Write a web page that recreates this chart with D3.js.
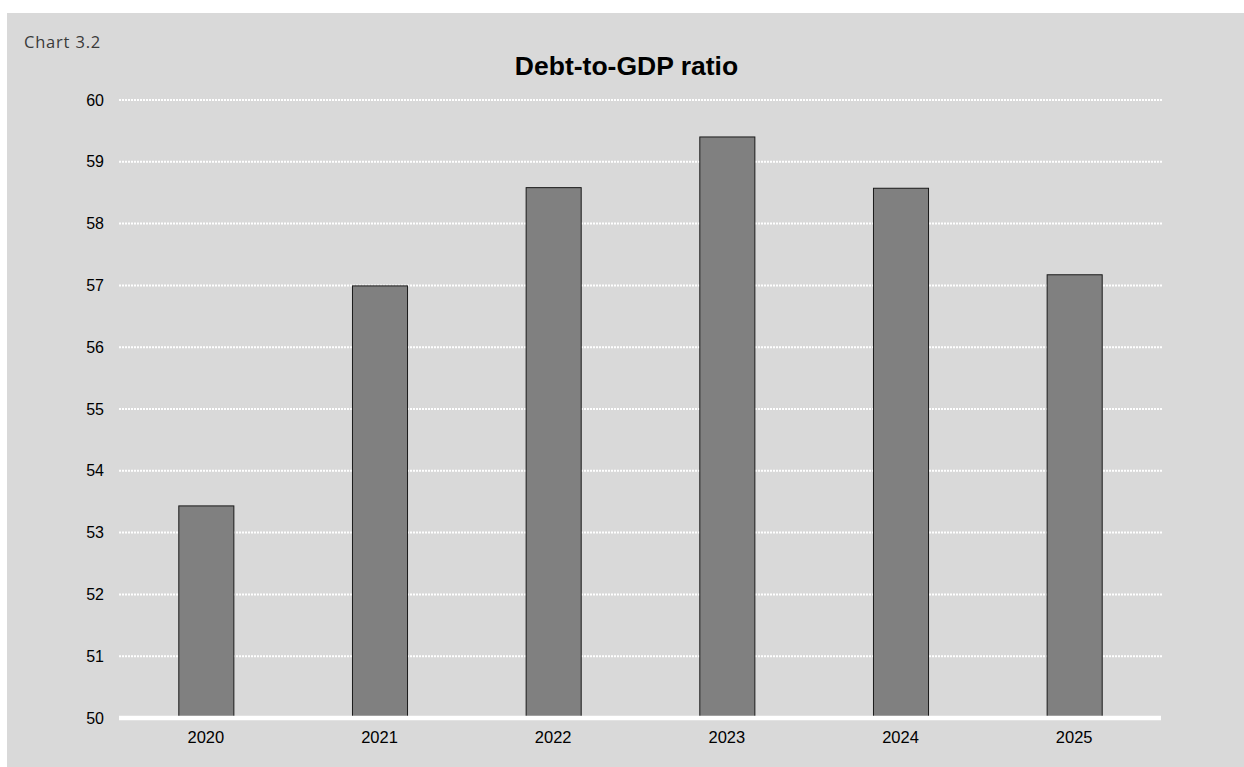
<!DOCTYPE html>
<html>
<head>
<meta charset="utf-8">
<script src="https://cdn.jsdelivr.net/npm/d3@7"></script>
<style>
  html, body { margin: 0; padding: 0; background: #ffffff; }
  svg { display: block; }
</style>
</head>
<body>
<svg id="chart" width="1244" height="767"></svg>
<script>
// Debt-to-GDP ratio, by year
const years = ["2020", "2021", "2022", "2023", "2024", "2025"];
const debtRatio = [53.44, 57.0, 58.59, 59.41, 58.58, 57.18];
const yTicks = [50, 51, 52, 53, 54, 55, 56, 57, 58, 59, 60];

const W = 1244, H = 767;
const margin = { left: 119, right: 83, top: 100, bottom: 49 };
const svg = d3.select("#chart");

// panel background
svg.append("rect")
  .attr("x", 7).attr("y", 13)
  .attr("width", W - 7).attr("height", H - 13)
  .attr("fill", "#d9d9d9");

const x = d3.scaleBand()
  .domain(years)
  .range([margin.left, W - margin.right])
  .paddingInner(0.683)
  .paddingOuter(0.3415);

const y = d3.scaleLinear()
  .domain([50, 60])
  .range([H - margin.bottom, margin.top]);

// horizontal gridlines (dotted white)
svg.append("g")
  .selectAll("line")
  .data(yTicks.filter(d => d !== 50))
  .join("line")
  .attr("x1", margin.left).attr("x2", W - margin.right + 1)
  .attr("y1", d => y(d)).attr("y2", d => y(d))
  .attr("stroke", "#ffffff")
  .attr("stroke-width", 2)
  .attr("stroke-dasharray", "2,1");

// bars
svg.append("g")
  .selectAll("rect")
  .data(years.map((yr, i) => ({ yr, v: debtRatio[i] })))
  .join("rect")
  .attr("x", d => x(d.yr) + 0.5)
  .attr("y", d => y(d.v) + 0.5)
  .attr("width", x.bandwidth())
  .attr("height", d => y(50) - y(d.v))
  .attr("fill", "#808080")
  .attr("stroke", "#1a1a1a")
  .attr("stroke-width", 1);

// baseline
svg.append("line")
  .attr("x1", margin.left).attr("x2", W - margin.right)
  .attr("y1", y(50)).attr("y2", y(50))
  .attr("stroke", "#ffffff")
  .attr("stroke-width", 4.5);

// y axis labels
const yAxis = d3.axisLeft(y)
  .tickValues(yTicks)
  .tickFormat(d3.format("d"))
  .tickSize(0)
  .tickPadding(15);
const gy = svg.append("g")
  .attr("transform", `translate(${margin.left},0)`)
  .call(yAxis);
gy.select(".domain").remove();
gy.selectAll("text")
  .attr("font-family", "'Liberation Sans', Arial, sans-serif")
  .attr("font-size", 16)
  .attr("fill", "#000");

// x axis labels
const xAxis = d3.axisBottom(x).tickSize(0).tickPadding(13);
const gx = svg.append("g")
  .attr("transform", `translate(0,${y(50)})`)
  .call(xAxis);
gx.select(".domain").remove();
gx.selectAll("text")
  .attr("font-family", "'Liberation Sans', Arial, sans-serif")
  .attr("font-size", 16.5)
  .attr("fill", "#000");

// title
svg.append("text")
  .attr("x", 626.5).attr("y", 75)
  .attr("text-anchor", "middle")
  .attr("font-family", "'Liberation Sans', Arial, sans-serif")
  .attr("font-weight", "bold")
  .attr("font-size", 26.5)
  .attr("fill", "#000")
  .text("Debt-to-GDP ratio");

// chart number
svg.append("text")
  .attr("x", 24).attr("y", 48)
  .attr("font-family", "'Open Sans', Lato, sans-serif")
  .attr("font-size", 16.5)
  .attr("letter-spacing", 0.8)
  .attr("fill", "#3a3a3a")
  .text("Chart 3.2");
</script>
</body>
</html>
